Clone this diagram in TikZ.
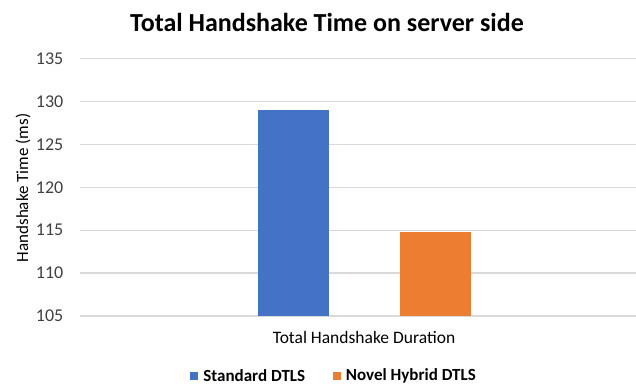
\documentclass[tikz,border=0pt]{standalone}
\usepackage{fontspec}
\setmainfont{Carlito}
\usetikzlibrary{positioning}

\definecolor{stdblue}{HTML}{4472C4}
\definecolor{hyborange}{HTML}{ED7D31}
\definecolor{gridgray}{HTML}{D9D9D9}
\definecolor{ticktext}{HTML}{404040}

\tikzset{
  gridline/.style={draw=gridgray, line width=1.3pt},
  ticklabel/.style={anchor=east, inner sep=0pt, text=ticktext, font=\fontsize{18}{21}\selectfont},
  legendkey/.style={minimum size=8pt, inner sep=0pt},
  legendtext/.style={anchor=west, inner sep=0pt, font=\bfseries\fontsize{17}{20}\selectfont},
}

\begin{document}
\begin{tikzpicture}[x=1pt,y=-1pt]
    \useasboundingbox (0,0) rectangle (636,386);
    \def\base{316}
    \def\unit{8.58}
    % title
    \node[font=\bfseries\fontsize{26}{31}\selectfont] (title) at (327,22) {Total Handshake Time on server side};

    %grid lines and tick labels
    \foreach \v in {105,110,...,135} {
      \pgfmathsetmacro\ypos{\base-(\v-105)*\unit}
      \draw[gridline] (80,\ypos) -- (636,\ypos);
      \node[ticklabel] (tick\v) at (63.5,\ypos) {\v};
    }

    % axis title
    \node[rotate=90, font=\fontsize{17}{20}\selectfont] (ytitle) at (23,188) {Handshake Time (ms)};

    %bars
    \pgfmathsetmacro\ystd{\base-(129.0-105)*\unit}
    \pgfmathsetmacro\yhyb{\base-(114.8-105)*\unit}
    \fill[stdblue] (257.5,\base) rectangle (328.5,\ystd);
    \fill[hyborange] (400,\base) rectangle (471,\yhyb);

    % category label
    \node[font=\fontsize{17.5}{21}\selectfont] (category) at (364,337) {Total Handshake Duration};

    % legend
    \node[legendkey, fill=stdblue] (keystd) at (194,376) {};
    \node[legendtext, right=5pt of keystd.east, anchor=west] (labstd) {Standard DTLS};
    \node[legendkey, fill=hyborange] (keyhyb) at (336.5,376) {};
    \node[legendtext, right=5pt of keyhyb.east, anchor=west] (labhyb) {Novel Hybrid DTLS};
\end{tikzpicture}
\end{document}
